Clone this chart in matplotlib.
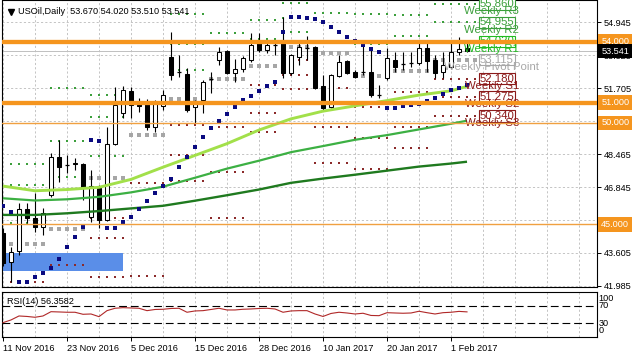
import matplotlib
matplotlib.use("Agg")
import matplotlib.pyplot as plt
from matplotlib.transforms import blended_transform_factory
from matplotlib.patches import Rectangle

plt.rcParams['font.family'] = ['Liberation Sans', 'DejaVu Sans']

# ---------------- data ----------------
date_labels = ["11 Nov 2016", "23 Nov 2016", "5 Dec 2016", "15 Dec 2016", "28 Dec 2016",
               "10 Jan 2017", "20 Jan 2017", "1 Feb 2017"]
date_label_bars = [0, 8, 16, 24, 32, 40, 48, 56]

opens = [44.58, 43.17, 43.71, 45.76, 45.30, 44.89, 46.45, 48.31, 47.95, 47.96,
         47.98, 45.38, 46.78, 45.22, 48.96, 50.49, 51.59, 50.98, 50.98, 49.81,
         50.83, 53.26, 52.55, 52.41, 50.78, 51.13, 52.10, 53.10, 53.56, 52.47,
         52.64, 53.10, 53.92, 53.59, 53.84, 53.92, 52.44, 53.26, 53.70, 53.75,
         51.82, 50.77, 52.31, 53.06, 52.52, 52.50, 52.52, 51.35, 52.20, 53.10,
         52.87, 52.92, 52.94, 53.67, 53.10, 52.52, 52.77, 53.51, 53.670]
highs = [44.83, 43.89, 46.04, 46.04, 46.53, 45.80, 48.50, 49.16, 48.42, 48.27,
         48.02, 47.68, 46.94, 49.81, 51.77, 51.82, 51.78, 51.23, 51.20, 51.13,
         51.62, 54.49, 53.34, 52.70, 51.13, 52.10, 52.52, 53.75, 53.60, 53.13,
         53.30, 54.41, 54.41, 54.00, 54.00, 55.23, 53.38, 53.92, 54.28, 53.80,
         52.36, 52.40, 53.34, 53.10, 52.60, 53.92, 53.75, 51.87, 53.67, 53.51,
         53.51, 53.51, 53.92, 53.92, 53.34, 53.51, 53.92, 54.25, 54.020]
lows = [42.95, 42.18, 43.50, 45.06, 44.64, 44.48, 46.37, 47.11, 47.52, 47.68,
        46.20, 45.14, 44.83, 45.18, 48.90, 50.24, 50.24, 50.53, 49.65, 49.55,
        50.63, 52.11, 52.26, 50.53, 50.00, 50.49, 51.46, 52.85, 52.40, 52.03,
        52.50, 53.01, 53.51, 53.43, 53.34, 52.20, 52.36, 52.85, 53.10, 51.65,
        50.64, 50.72, 52.28, 52.40, 52.20, 52.36, 51.29, 51.21, 52.11, 52.52,
        52.60, 52.77, 52.85, 52.52, 52.20, 52.20, 52.69, 53.34, 53.510]
closes = [43.10, 43.66, 45.75, 45.30, 44.89, 45.55, 48.31, 47.85, 47.93, 48.02,
          46.86, 46.89, 45.22, 48.96, 50.88, 51.62, 50.88, 50.83, 49.80, 50.93,
          51.37, 52.36, 52.50, 50.63, 50.98, 52.03, 52.15, 53.51, 52.47, 52.64,
          53.18, 53.84, 53.59, 53.84, 53.82, 52.44, 53.34, 53.72, 53.67, 51.71,
          50.72, 52.36, 53.01, 52.44, 52.25, 52.52, 51.37, 51.37, 53.18, 52.77,
          52.89, 52.96, 53.67, 53.06, 52.44, 52.85, 53.51, 53.63, 53.541]

sar = [45.91, 45.61, 42.18, 42.18, 42.39, 42.62, 42.88, 43.29, 43.91, 44.40,
       44.89, 49.16, 49.12, 44.84, 44.84, 45.11, 45.38, 45.78, 46.17, 46.55,
       46.91, 47.24, 47.85, 48.34, 48.83, 49.32, 49.74, 50.11, 50.45, 50.78,
       51.14, 51.33, 51.59, 51.82, 52.03, 54.46, 55.23, 55.23, 55.15, 55.13,
       54.99, 54.74, 54.46, 54.25, 54.05, 53.84, 53.63, 53.48, 50.72, 50.72,
       50.83, 50.88, 50.93, 51.08, 51.24, 51.41, 51.62, 51.74, 51.89]

rsi = [31.5, 37.7, 46.9, 45.8, 43.9, 46.9, 56.8, 56.2, 55.5, 55.5,
       50.8, 51.5, 45.3, 59.2, 64.7, 66.1, 65.4, 64.7, 59.2, 61.9,
       62.4, 64.2, 64.7, 55.5, 58.5, 59.2, 61.9, 64.7, 60.8, 60.8,
       62.4, 63.1, 64.2, 64.7, 63.1, 55.5, 58.5, 59.2, 59.2, 51.5,
       45.8, 52.7, 55.5, 53.8, 51.5, 53.2, 48.1, 47.6, 54.5, 53.8,
       53.2, 53.8, 57.8, 54.5, 51.5, 54.5, 55.5, 57.5, 56.36]

ma_bars = [0, 4, 8, 12, 16, 20, 24, 28, 32, 36, 40, 44, 48, 52, 56, 58]
ma_fast = [46.89, 46.66, 46.72, 46.83, 47.22, 47.82, 48.40, 48.98, 49.65, 50.20,
           50.58, 50.84, 51.10, 51.37, 51.58, 51.80]
ma_mid = [46.29, 46.18, 46.24, 46.36, 46.58, 46.86, 47.30, 47.75, 48.14, 48.56,
          48.86, 49.17, 49.40, 49.68, 49.96, 50.11]
ma_slow = [45.47, 45.47, 45.55, 45.66, 45.79, 45.92, 46.17, 46.44, 46.72, 47.05,
           47.26, 47.45, 47.65, 47.85, 48.00, 48.09]

week_start = [1, 6, 11, 16, 21, 26, 31, 35, 39, 44, 49, 54]
week_end = [5, 10, 15, 20, 25, 30, 34, 38, 43, 48, 53, 59]
piv_R3 = [47.96, 51.71, 51.38, None, 55.34, None, None, 55.89, None, None, None, 55.860]
piv_R2 = [46.94, 49.12, 50.28, None, 53.88, None, 55.09, 55.15, None, 55.38, 55.31, 54.955]
piv_R1 = [45.05, 47.35, 48.39, 54.01, 52.62, 54.41, 54.14, 54.49, 55.40, 53.87, 54.29, 54.020]
piv_P = [44.04, 44.76, 47.27, 49.42, 51.16, 52.15, 52.80, 53.75, 53.46, 52.31, 52.56, 53.115]
piv_S1 = [42.18, 43.00, 45.33, 47.06, 49.90, 49.81, 51.85, 53.09, 51.71, 50.80, 51.54, 52.180]
piv_S2 = [None, None, 44.32, 42.46, 48.44, 47.60, 50.51, 52.35, 49.81, 49.24, 49.81, 51.275]
piv_S3 = [None, None, 42.43, None, 47.15, 45.30, 49.56, 51.69, 48.01, 47.73, 48.78, 50.340]

level_names = ["Weekly R3", "Weekly R2", "Weekly R1", "Weekly Pivot Point",
               "Weekly S1", "Weekly S2", "Weekly S3"]

hlines_thick = [54.0, 51.0]
hlines_thin = [50.0, 45.0]
zone_bars = [0, 15]
zone_prices = [42.71, 43.58]

price_ticks = [41.985, 43.605, 45.225, 46.845, 48.465, 50.085, 51.705, 53.325, 54.945]
price_tick_labels = ["41.985", "43.605", "45.225", "46.845", "48.465", "", "51.705",
                     "53.325", "54.945"]
current_price = 53.541
title = "USOil,Daily  53.670 54.020 53.510 53.541"
rsi_title = "RSI(14) 56.3582"

# ---------------- figure ----------------
W, H = 637, 358
fig = plt.figure(figsize=(W / 100, H / 100), dpi=100)


def axrect(x0, y0, x1, y1):
    return [x0 / W, 1 - y1 / H, (x1 - x0) / W, (y1 - y0) / H]


ax = fig.add_axes(axrect(1.7, 0.5, 596.7, 286.7))
axr = fig.add_axes(axrect(1.7, 291.7, 596.7, 336.7))

XL = (-0.16, 74.21)
ax.set_xlim(*XL)
ax.set_ylim(41.936, 56.028)
axr.set_xlim(*XL)
axr.set_ylim(-1, 103)

FS = 6.6
GRID = dict(color='#c4c4c4', lw=0.7, ls=(0, (2.2, 2.2)), zorder=0)

for a in (ax, axr):
    for s in a.spines.values():
        s.set_linewidth(0.8)
        s.set_color('black')
    for b in range(0, 75, 4):
        a.axvline(b, **GRID)

for v in price_ticks:
    ax.axhline(v, **GRID)

# zone rectangle
ax.add_patch(Rectangle((zone_bars[0], zone_prices[0]), zone_bars[1] - zone_bars[0],
                       zone_prices[1] - zone_prices[0], facecolor='#5a8ee8',
                       edgecolor='none', zorder=1))

# bid line
ax.axhline(current_price, color='#c0c0c0', lw=0.7, zorder=1.5)

# weekly pivot dots
level_sets = [(piv_R3, '#3c9f3c', 1.5), (piv_R2, '#3c9f3c', 1.5), (piv_R1, '#3c9f3c', 1.5),
              (piv_P, '#a6a6a6', 2.4), (piv_S1, '#8b2a2a', 1.5), (piv_S2, '#8b2a2a', 1.5),
              (piv_S3, '#8b2a2a', 1.5)]
for vals, col, ms in level_sets:
    for s, e, v in zip(week_start, week_end, vals):
        if v is None:
            continue
        bars = list(range(s, e + 1))
        ax.plot(bars, [v] * len(bars), ls='none', marker='s', ms=ms, mew=0,
                color=col, zorder=2)

# candles
for i, (o, h, l, c) in enumerate(zip(opens, highs, lows, closes)):
    ax.vlines(i, l, h, color='black', lw=0.8, zorder=3)
    lo, hi = min(o, c), max(o, c)
    if hi - lo < 0.05:
        ax.hlines(c, i - 0.3, i + 0.3, color='black', lw=0.9, zorder=4)
    else:
        fc = 'white' if c > o else 'black'
        ax.add_patch(Rectangle((i - 0.28, lo), 0.56, hi - lo, facecolor=fc,
                               edgecolor='black', lw=0.75, zorder=4))

# moving averages
ax.plot(ma_bars, ma_slow, color='#1f7a1f', lw=1.7, zorder=5, solid_capstyle='butt')
ax.plot(ma_bars, ma_mid, color='#3cb043', lw=1.6, zorder=5, solid_capstyle='butt')
ax.plot(ma_bars, ma_fast, color='#a2e04a', lw=2.1, zorder=5, solid_capstyle='butt')

# parabolic SAR
ax.plot(range(len(sar)), sar, ls='none', marker='s', ms=2.4, mew=0, color='#0a0a80', zorder=6)

# weekly labels for the current week
cur_vals = [piv_R3[-1], piv_R2[-1], piv_R1[-1], piv_P[-1], piv_S1[-1], piv_S2[-1], piv_S3[-1]]
cur_cols = ['#3c9f3c', '#3c9f3c', '#22bb22', '#a8a8a8', '#8b1a1a', '#8b1a1a', '#8b1a1a']
for name, v, col in zip(level_names, cur_vals, cur_cols):
    ax.text(61.75, v, f"{v:.3f}", ha='center', va='center', fontsize=8.2, color=col,
            bbox=dict(boxstyle='square,pad=0.06', fc='white', ec=col, lw=0.8), zorder=6.5)
    ax.text(61.1, v - 0.36, name, ha='center', va='center', fontsize=8.2, color=col,
            zorder=7)

# horizontal orange lines
for v in hlines_thick:
    ax.axhline(v, color='#f5951e', lw=3.1, zorder=8)
for v in hlines_thin:
    ax.axhline(v, color='#f0a040', lw=1.0, zorder=8)

# right price axis
ax.yaxis.tick_right()
ax.set_yticks(price_ticks)
ax.set_yticklabels(price_tick_labels)
ax.tick_params(axis='y', length=3, width=0.7, pad=2, labelsize=FS, direction='out')
ax.set_xticks([])

trans = blended_transform_factory(ax.transAxes, ax.transData)
for v in hlines_thick + hlines_thin:
    ax.text(1.0075, v, f"{v:.3f}", transform=trans, ha='left', va='center', fontsize=FS,
            color='white', bbox=dict(boxstyle='square,pad=0.3', fc='#f5951e', ec='none'),
            zorder=20, clip_on=False)
ax.text(1.0075, current_price, f"{current_price:.3f}", transform=trans, ha='left',
        va='center', fontsize=FS, color='white',
        bbox=dict(boxstyle='square,pad=0.3', fc='black', ec='none'), zorder=21, clip_on=False)

# title
ax.plot([0.0155], [0.961], marker='v', ms=4, color='black', transform=ax.transAxes,
        clip_on=False, zorder=10)
ax.text(0.0275, 0.962, title, transform=ax.transAxes, ha='left', va='center',
        fontsize=FS, color='black', zorder=10)

# RSI panel
axr.plot(range(len(rsi)), rsi, color='#b02828', lw=0.8, zorder=3)
for lv in (70, 30):
    axr.axhline(lv, color='black', lw=0.8, ls=(0, (7, 3.5)), zorder=2)
axr.set_yticks([])
axr.set_xticks(date_label_bars)
axr.set_xticklabels(date_labels)
for t in axr.get_xticklabels():
    t.set_ha('left')
axr.tick_params(axis='x', length=3, width=0.7, pad=2, labelsize=FS, direction='out')
axr.text(0.009, 0.78, rsi_title, transform=axr.transAxes, ha='left', va='center',
         fontsize=FS, color='black')
rtrans = blended_transform_factory(axr.transAxes, axr.transData)
for lab, yv in zip(["100", "70", "30", "0"], [87.8, 70.0, 30.1, 13.0]):
    axr.text(1.003, yv, lab, transform=rtrans, ha='left', va='center', fontsize=FS,
             clip_on=False)

fig.savefig("out.png", dpi=100)
